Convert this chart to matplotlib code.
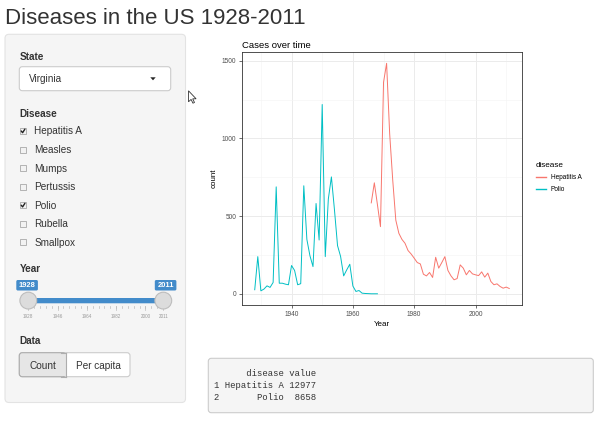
import matplotlib
matplotlib.use("Agg")
import matplotlib.pyplot as plt
from matplotlib.patches import FancyBboxPatch, Rectangle, Circle, Polygon

plt.rcParams['font.family'] = ['Liberation Sans', 'DejaVu Sans']

# ---- data ----
polio_years = list(range(1928, 1969))
polio_cases = [26, 239, 19, 30, 51, 41, 73, 688, 68, 68, 62, 58,
               182, 150, 58, 65, 695, 350, 245, 175, 581, 346,
               1218, 239, 610, 752, 540, 310, 240, 115, 154, 190,
               50, 15, 21, 4, 2, 1, 0, 0, 0]

hep_years = list(range(1966, 2012))
hep_cases = [585, 714, 575, 432,
             1361, 1483, 1030, 731, 474, 389, 350, 325, 278, 256,
             229, 201, 192, 126, 115, 137, 105, 235, 165, 201,
             239, 150, 115, 90, 98, 186, 165, 122, 150, 128,
             122, 117, 141, 107, 133, 79, 58, 64, 47, 36,
             43, 34]

diseases = ['Hepatitis A', 'Polio']
totals = [12977, 8658]
colors = ['#F8766D', '#00BFC4']

disease_options = ['Hepatitis A', 'Measles', 'Mumps', 'Pertussis', 'Polio', 'Rubella', 'Smallpox']
checked = ['Hepatitis A', 'Polio']
year_range = (1928, 2011)
slider_labels = [1928, 1946, 1964, 1982, 2000, 2011]

# ---- figure ----
fig = plt.figure(figsize=(6, 4.21), dpi=100)
ui = fig.add_axes([0, 0, 1, 1])
ui.set_xlim(0, 600)
ui.set_ylim(421, 0)
ui.axis('off')

TXT = '#333333'


def rbox(x0, y0, x1, y1, fc, ec, r=3, lw=0.8, z=1):
    p = FancyBboxPatch((x0, y0), x1 - x0, y1 - y0,
                       boxstyle=f"round,pad=0,rounding_size={r}",
                       fc=fc, ec=ec, lw=lw, zorder=z)
    ui.add_patch(p)


# page title
ui.text(5, 23.5, 'Diseases in the US 1928-2011', fontsize=16, color=TXT, va='baseline')

# sidebar well
rbox(5, 34.3, 185.5, 402.5, '#f5f5f5', '#e3e3e3', r=4)

# State select
ui.text(19.5, 60, 'State', fontsize=7.2, fontweight='bold', color=TXT, va='baseline')
rbox(19.3, 66.7, 170.7, 90.7, 'white', '#cccccc', r=3, z=2)
ui.text(29, 82.5, 'Virginia', fontsize=7.2, color=TXT, va='baseline', zorder=3)
ui.add_patch(Polygon([(150.3, 77.3), (155.7, 77.3), (153, 80.3)], closed=True,
                     fc='#222222', ec='none', zorder=3))

# Disease checkboxes
ui.text(19.5, 117, 'Disease', fontsize=7.2, fontweight='bold', color=TXT, va='baseline')
for i, name in enumerate(disease_options):
    cy = 131 + i * 18.55
    ui.add_patch(Rectangle((20, cy - 3), 6, 6, fc='#f2f2f2', ec='#a8a8a8', lw=0.6, zorder=2))
    if name in checked:
        ui.plot([21.2, 22.6, 24.9], [cy, cy + 1.7, cy - 1.9], color='#222222', lw=1.0,
                solid_capstyle='round', zorder=3)
    ui.text(34.3, cy + 3.5, name, fontsize=7.2, color=TXT, va='baseline')

# Year slider
ui.text(19.5, 271.7, 'Year', fontsize=7.2, fontweight='bold', color=TXT, va='baseline')
x_lo, x_hi = 28.3, 163.3


def sx(yr):
    return x_lo + (yr - year_range[0]) / (year_range[1] - year_range[0]) * (x_hi - x_lo)


rbox(x_lo, 298, x_hi, 303.3, '#428bca', 'none', r=1.5, lw=0, z=2)
# grid ticks
step = (slider_labels[1] - slider_labels[0]) / 5
t = year_range[0]
while t <= year_range[1] + 0.01:
    ui.plot([sx(t), sx(t)], [305.5, 308], color='#bbbbbb', lw=0.5, zorder=2)
    t += step
for yr in slider_labels:
    ui.plot([sx(yr), sx(yr)], [305.5, 310], color='#bbbbbb', lw=0.5, zorder=2)
    ui.text(sx(yr), 316.7, str(yr), fontsize=3.3, color='#999999', ha='center', va='center')
for yr in year_range:
    ui.add_patch(Circle((sx(yr), 300.6), 8.4, fc='#dcdcdc', ec='#bdbdbd', lw=0.8, zorder=3))
    cx = sx(yr) - 1.2 if yr == year_range[0] else sx(yr) + 2.3
    rbox(cx - 10.8, 280, cx + 10.8, 290.5, '#428bca', 'none', r=1.5, lw=0, z=3)
    ui.text(cx, 285.4, str(yr), fontsize=5.4, fontweight='bold', color='white',
            ha='center', va='center', zorder=4)

# Data radio buttons
ui.text(19.5, 344.5, 'Data', fontsize=7.2, fontweight='bold', color=TXT, va='baseline')
rbox(19.3, 352.7, 130, 376.7, 'white', '#cccccc', r=3, z=2)
rbox(19.3, 352.7, 65.7, 376.7, '#e6e6e6', '#adadad', r=3, z=3)
ui.add_patch(Rectangle((61, 353.1), 4.7, 23.2, fc='#e6e6e6', ec='none', zorder=3))
ui.plot([65.7, 65.7], [352.7, 376.7], color='#adadad', lw=0.8, zorder=4)
ui.plot([61, 65.7], [352.7, 352.7], color='#adadad', lw=0.8, zorder=4)
ui.plot([61, 65.7], [376.7, 376.7], color='#adadad', lw=0.8, zorder=4)
ui.text(42.5, 369, 'Count', fontsize=7.2, color=TXT, ha='center', va='baseline', zorder=5)
ui.text(98, 369, 'Per capita', fontsize=7.2, color=TXT, ha='center', va='baseline', zorder=5)

# mouse pointer
px, py = 188.5, 90.8
ui.add_patch(Polygon([(px, py), (px, py + 11), (px + 2.6, py + 8.6), (px + 4.4, py + 12.4),
                      (px + 6, py + 11.7), (px + 4.2, py + 8), (px + 7.6, py + 8)],
                     closed=True, fc='white', ec='#333333', lw=0.6, zorder=5))

# verbatim output box
rbox(208.3, 358.3, 593.3, 412.7, '#f5f5f5', '#cccccc', r=3)
w = max(len(d) for d in diseases)
lines = ['  ' + 'disease'.rjust(w) + ' value']
for i, (d, v) in enumerate(zip(diseases, totals)):
    lines.append(f"{i + 1} {d.rjust(w)} {str(v).rjust(5)}")
for i, line in enumerate(lines):
    ui.text(214, 376 + i * 12.2, line, family=['Liberation Mono', 'DejaVu Sans Mono'],
            fontsize=6.4, color=TXT, va='baseline')

# ---- ggplot-like chart ----
ax = fig.add_axes([242 / 600, 1 - 305.3 / 421, 280 / 600, 253.5 / 421])
ax.plot(hep_years, hep_cases, color=colors[0], lw=0.7, label=diseases[0])
ax.plot(polio_years, polio_cases, color=colors[1], lw=0.7, label=diseases[1])

x_all = hep_years + polio_years
y_all = hep_cases + polio_cases
xr = max(x_all) - min(x_all)
yr_ = max(y_all) - min(y_all)
ax.set_xlim(min(x_all) - 0.05 * xr, max(x_all) + 0.05 * xr)
ax.set_ylim(min(y_all) - 0.05 * yr_, max(y_all) + 0.05 * yr_)

ax.set_xticks([1940, 1960, 1980, 2000])
ax.set_xticks([1930, 1950, 1970, 1990, 2010], minor=True)
ax.set_yticks([0, 500, 1000, 1500])
ax.set_yticks([250, 750, 1250], minor=True)
ax.grid(which='major', color='#ebebeb', lw=0.7)
ax.grid(which='minor', color='#f4f4f4', lw=0.4)
ax.set_axisbelow(True)
ax.tick_params(which='minor', length=0)
ax.tick_params(which='major', length=2.5, width=0.5, color='#333333',
               labelsize=4.7, labelcolor='#4d4d4d', pad=1.5)
for s in ax.spines.values():
    s.set_color('#333333')
    s.set_linewidth(0.6)

ax.set_xlabel('Year', fontsize=5.8, labelpad=2)
ax.set_ylabel('count', fontsize=5.8, labelpad=3)
ax.set_title('Cases over time', loc='left', fontsize=6.8, pad=3)

leg = ax.legend(loc='upper left', bbox_to_anchor=(530 / 600, 1 - 156 / 421),
                bbox_transform=fig.transFigure, frameon=False, title='disease',
                fontsize=4.7, title_fontsize=5.9, handlelength=1.6,
                handletextpad=0.7, labelspacing=0.8, alignment='left')
for h, c in zip(leg.get_lines(), colors):
    h.set_color(c)
    h.set_linewidth(1.0)

fig.savefig('out.png', dpi=100)
